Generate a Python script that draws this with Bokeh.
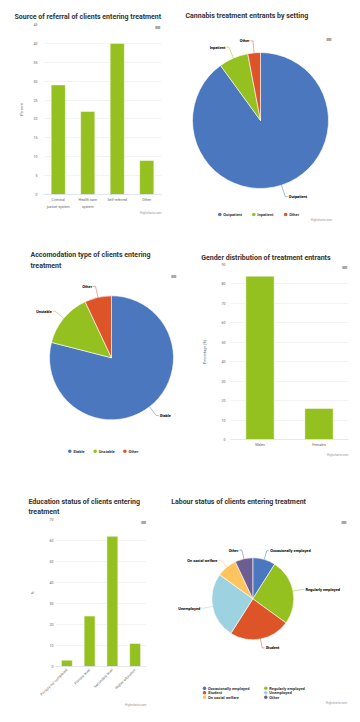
import math
from bokeh.plotting import figure
from bokeh.models import (Range1d, FactorRange, Label, ColumnDataSource, SingleIntervalTicker,
                          FixedTicker, LinearAxis, Title)
from bokeh.layouts import column, row
from bokeh.embed import file_html
from bokeh.resources import INLINE
from bokeh.core.properties import value

# ---------------- data ----------------
referral_categories = ["Criminal justice system", "Health care system", "Self-referred", "Other"]
referral_tick_labels = ["Criminal\njustice system", "Health care\nsystem", "Self-referred", "Other"]
referral_values = [29, 22, 40, 9]

setting_labels = ["Outpatient", "Inpatient", "Other"]
setting_values = [90, 7, 3]

accom_labels = ["Stable", "Unstable", "Other"]
accom_values = [79, 14, 7]

gender_categories = ["Males", "Females"]
gender_values = [84, 16]

education_categories = ["Primary not completed", "Primary level", "Secondary level", "Higher education"]
education_values = [3, 24, 62, 11]

labour_labels = ["Occasionally employed", "Regularly employed", "Student",
                 "Unemployed", "On social welfare", "Other"]
labour_values = [9, 26, 24, 26, 8, 7]

# ---------------- styles ----------------
BLUE = "#4a77be"
GREEN = "#94c11f"
RED = "#dd5429"
LBLUE = "#9dd3e0"
YELLOW = "#fdc45f"
PURPLE = "#6b5e93"
FONT = "Roboto"
TITLE_SIZE = "7px"
TICK_SIZE = "3.6px"
LABEL_SIZE = "3.9px"
LEGEND_SIZE = "4px"
CREDIT_SIZE = "3px"


def style_xaxis(ax, standoff):
    ax.major_tick_line_color = None
    ax.minor_tick_line_color = None
    ax.major_tick_out = 0
    ax.major_tick_in = 0
    ax.minor_tick_out = 0
    ax.major_label_text_font = FONT
    ax.major_label_text_font_size = TICK_SIZE
    ax.major_label_text_color = "#666666"
    ax.major_label_standoff = standoff


def bar_chart(cats, vals, W, H, bl, br, bt, bb, ymax, ystep, ylabel, title, title_dx,
              title_standoff, tick_standoff, label_standoff, menu_xy, credit_standoff,
              tick_labels=None, rotate=False):
    if tick_labels:
        x_range = Range1d(0, len(cats))
    else:
        x_range = FactorRange(*cats)
    p = figure(width=W, height=H, x_range=x_range, y_range=Range1d(0, ymax),
               output_backend="svg", toolbar_location=None,
               min_border_left=bl, min_border_right=br, min_border_top=bt, min_border_bottom=bb)
    p.frame_align = False
    p.outline_line_color = None
    p.xgrid.visible = False
    p.ygrid.grid_line_color = "#e6e6e6"
    p.ygrid.grid_line_width = 0.5
    p.yaxis.ticker = SingleIntervalTicker(interval=ystep)
    p.yaxis.axis_line_color = None
    p.yaxis.major_tick_line_color = None
    p.yaxis.minor_tick_line_color = None
    p.yaxis.major_tick_out = 0
    p.yaxis.major_tick_in = 0
    p.yaxis.minor_tick_out = 0
    p.yaxis.major_label_text_font = FONT
    p.yaxis.major_label_text_font_size = TICK_SIZE
    p.yaxis.major_label_text_color = "#666666"
    p.yaxis.major_label_standoff = tick_standoff
    p.yaxis.axis_label = ylabel
    p.yaxis.axis_label_text_font = FONT
    p.yaxis.axis_label_text_font_size = TICK_SIZE
    p.yaxis.axis_label_text_font_style = "normal"
    p.yaxis.axis_label_text_color = "#666666"
    p.yaxis.axis_label_standoff = label_standoff
    p.xaxis.axis_line_color = "#ccd6eb"
    p.xaxis.axis_line_width = 0.6
    style_xaxis(p.xaxis, 3)
    if rotate:
        p.xaxis.major_label_orientation = math.pi / 4

    if tick_labels:
        # numeric positions at the centre of each category slot
        xs = [i + 0.5 for i in range(len(cats))]
        first = {x: t.split("\n")[0] for x, t in zip(xs, tick_labels)}
        second = {x: t.split("\n")[1] for x, t in zip(xs, tick_labels) if "\n" in t}
        p.xaxis.ticker = FixedTicker(ticks=xs)
        p.xaxis.major_label_overrides = first
        ax2 = LinearAxis(ticker=FixedTicker(ticks=list(second.keys())),
                         major_label_overrides=second, axis_line_color=None)
        style_xaxis(ax2, 0)
        p.add_layout(ax2, "below")
        src = ColumnDataSource(dict(x=xs, val=vals, cat=cats))
        p.vbar(x="x", top="val", width=0.48, source=src, fill_color=GREEN,
               line_color="white", line_width=0.5)
    else:
        src = ColumnDataSource(dict(cat=cats, val=vals))
        p.vbar(x="cat", top="val", width=0.48, source=src, fill_color=GREEN,
               line_color="white", line_width=0.5)

    p.title.text = title
    p.title.text_font = FONT
    p.title.text_font_size = TITLE_SIZE
    p.title.text_font_style = "bold"
    p.title.text_color = "#333333"
    p.title.text_line_height = 1.3
    p.title.offset = title_dx
    p.title.standoff = title_standoff
    p.add_layout(Label(x=menu_xy[0], y=menu_xy[1], x_units="screen", y_units="screen",
                       text="\u2261", text_font="DejaVu Sans", text_font_size="8px",
                       text_color="#666666", text_align="center", text_baseline="middle"))
    p.add_layout(Title(text="Highcharts.com", align="right", text_font=FONT,
                       text_font_size=CREDIT_SIZE, text_font_style="normal",
                       text_color="#999999", standoff=credit_standoff), "below")
    return p


def pie_chart(labels, vals, colors, W, H, title, title_xy, cx, cy, r, d,
              legend_rows, legend_cols_x, legend_ys, menu_xy, credit_xy=None):
    p = figure(width=W, height=H, x_range=Range1d(0, W), y_range=Range1d(H, 0),
               output_backend="svg", toolbar_location=None, min_border=0,
               x_axis_location=None, y_axis_location=None)
    p.frame_align = False
    p.outline_line_color = None
    p.grid.visible = False
    total = float(sum(vals))
    starts, ends, mids = [], [], []
    cum = 0.0
    for v in vals:
        a, b = cum / total, (cum + v) / total
        starts.append(math.pi / 2 - 2 * math.pi * b)
        ends.append(math.pi / 2 - 2 * math.pi * a)
        mids.append(math.pi * (a + b))
        cum += v
    src = ColumnDataSource(dict(label=labels, val=vals, start=starts, end=ends, color=colors))
    p.wedge(x=cx, y=cy, radius=r, start_angle="start", end_angle="end", fill_color="color",
            line_color="white", line_width=0.6, source=src)
    # data labels with connectors
    xs, ys, lc = [], [], []
    lt = dict(x=[], y=[], t=[])
    rt = dict(x=[], y=[], t=[])
    for lab, m, c in zip(labels, mids, colors):
        dx, dy = math.sin(m), -math.cos(m)
        ex, ey = cx + r * dx, cy + r * dy
        lx, ly = cx + (r + d) * dx, cy + (r + d) * dy
        side = 1 if dx >= 0 else -1
        xs.append([ex, cx + (r + d * 0.6) * dx, lx, lx + side * 2.5])
        ys.append([ey, cy + (r + d * 0.6) * dy, ly, ly])
        lc.append(c)
        tgt = lt if side > 0 else rt
        tgt["x"].append(lx + side * 3.5)
        tgt["y"].append(ly)
        tgt["t"].append(lab)
    p.multi_line(xs=xs, ys=ys, line_color=lc, line_width=0.5)
    for tgt, al in ((lt, "left"), (rt, "right")):
        if tgt["t"]:
            p.text(x=tgt["x"], y=tgt["y"], text=tgt["t"], text_font=value(FONT),
                   text_font_size=value(LABEL_SIZE), text_font_style="bold", text_color="#000000",
                   text_align=al, text_baseline="middle")
    # title
    p.text(x=[title_xy[0]], y=[title_xy[1]], text=[title], text_font=value(FONT),
           text_font_size=value(TITLE_SIZE), text_font_style="bold", text_color="#333333",
           text_align="left", text_baseline="middle", text_line_height=1.3)
    # legend
    gx, gy, tx, ty, tt, gc = [], [], [], [], [], []
    for rr, names in enumerate(legend_rows):
        for cc, nm in enumerate(names):
            gx.append(legend_cols_x[rr][cc])
            gy.append(legend_ys[rr])
            tx.append(legend_cols_x[rr][cc] + 3.5)
            ty.append(legend_ys[rr])
            tt.append(nm)
            gc.append(colors[labels.index(nm)])
    p.scatter(x=gx, y=gy, size=3.6, fill_color=gc, line_color=None)
    p.text(x=tx, y=ty, text=tt, text_font=value(FONT), text_font_size=value(LEGEND_SIZE),
           text_font_style="bold", text_color="#333333", text_align="left", text_baseline="middle")
    # menu & credits
    p.text(x=[menu_xy[0]], y=[menu_xy[1]], text=["\u2261"], text_font=value("DejaVu Sans"),
           text_font_size=value("8px"), text_color="#666666", text_align="center",
           text_baseline="middle")
    if credit_xy:
        p.text(x=[credit_xy[0]], y=[credit_xy[1]], text=["Highcharts.com"], text_font=value(FONT),
               text_font_size=value(CREDIT_SIZE), text_color="#999999", text_align="right",
               text_baseline="middle")
    return p


def row_positions(start, names, char_w=2.15, gap=9.0):
    out, x = [], start
    for nm in names:
        out.append(x)
        x += 3.5 + len(nm) * char_w + gap
    return out


# ---------------- charts ----------------
f1 = bar_chart(referral_categories, referral_values, 180, 240, 43, 19, 24, 46, 45, 5, "Percent",
               "Source of referral of clients entering treatment", -29, 7, 6, 6,
               (114, 167), -6, tick_labels=referral_tick_labels)

f2 = pie_chart(setting_labels, setting_values, [BLUE, GREEN, RED], 180, 240,
               "Cannabis treatment entrants by setting", (5, 15), 80, 120, 68, 12,
               [setting_labels], [row_positions(39.3, setting_labels)], [214],
               (148.3, 39), (151.7, 219.7))

f3 = pie_chart(accom_labels, accom_values, [BLUE, GREEN, RED], 180, 240,
               "Accomodation type of clients entering\ntreatment", (30, 20), 111, 117.3, 62, 11,
               [accom_labels], [row_positions(69.3, accom_labels)], [210.7],
               (173, 35.7))

f4 = bar_chart(gender_categories, gender_values, 180, 240, 50, 12, 24, 41, 90, 10, "Percentage (%)",
               "Gender distribution of treatment entrants", -29.3, 6, 5, 11,
               (114, 171.7), 2)

f5 = bar_chart(education_categories, education_values, 168, 242, 55, 22, 39, 56, 70, 10, "%",
               "Education status of clients entering\ntreatment", -27, 6, 2, 11,
               (88, 144.3), -2, rotate=True)

labour_rows = [["Occasionally employed", "Regularly employed"],
               ["Student", "Unemployed"],
               ["On social welfare", "Other"]]
f6 = pie_chart(labour_labels, labour_values, [BLUE, GREEN, RED, LBLUE, YELLOW, PURPLE], 192, 242,
               "Labour status of clients entering treatment", (2.7, 21.7), 84.3, 118.3, 41, 9,
               labour_rows, [[36, 97.3]] * 3, [207.7, 212.3, 216.7],
               (175.3, 41.7), (178.7, 222.3))

layout = column(row(f1, f2), row(f3, f4), row(f5, f6))

open("out.html", "w").write(file_html(layout, INLINE))
